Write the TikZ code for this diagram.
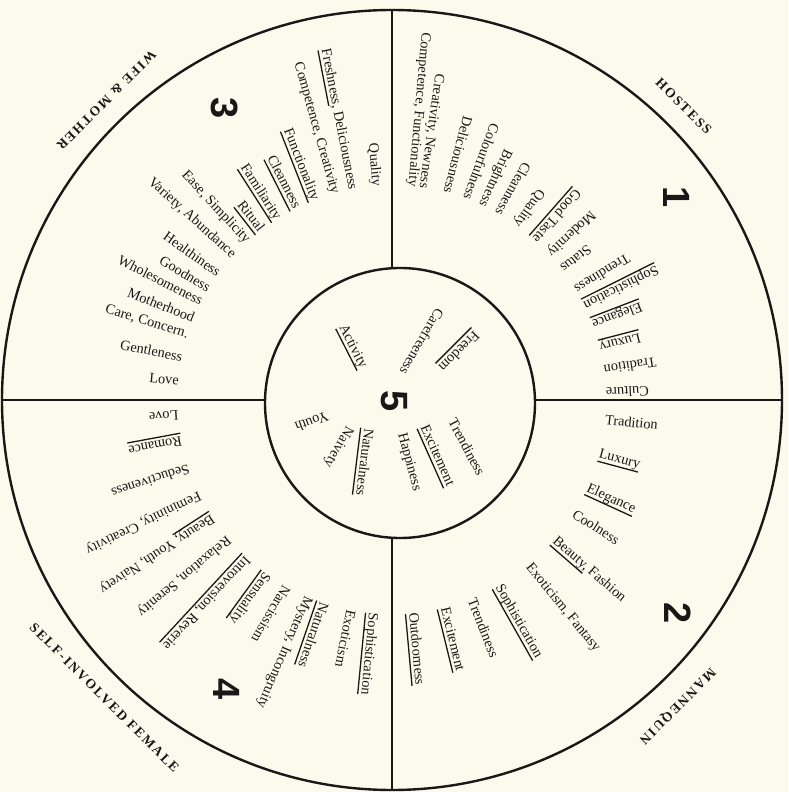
\documentclass[tikz,border=0pt]{standalone}
\usepackage{fontspec}
\setmainfont{Liberation Serif}
\newfontfamily\labfont[LetterSpace=14]{Liberation Serif}
\newfontfamily\numfont{Liberation Sans}
\definecolor{bgcream}{RGB}{252,250,237}
\definecolor{ink}{RGB}{26,24,22}
\newsavebox\ulbox
\newcommand\ulx[1]{\leavevmode\sbox\ulbox{#1}\rlap{\rule[-4.3pt]{\wd\ulbox}{1.3pt}}\usebox\ulbox}
\newcommand\wordfont{\fontsize{14.3}{16}\selectfont}
\tikzset{
  ring/.style={circle, draw=ink, line width=2.4pt, inner sep=0pt},
  divider/.style={draw=ink, line width=2.4pt},
  inw/.style={anchor=mid east, inner sep=0pt, text=ink, font=\wordfont},
  outw/.style={anchor=mid west, inner sep=0pt, text=ink, font=\wordfont},
  cw/.style={inner sep=0pt, text=ink, font=\wordfont},
  lab/.style={inner sep=0pt, text=ink, font=\labfont\bfseries\fontsize{13.5}{15}\selectfont},
  num/.style={inner sep=0pt, text=ink, font=\numfont\bfseries\fontsize{38}{40}\selectfont},
}
\begin{document}
\begin{tikzpicture}[x=1pt,y=1pt]
\useasboundingbox (-392,-392) rectangle (396,400);
\fill[bgcream] (-392,-392) rectangle (396,400);
% circles
\node[ring, minimum size=780pt] (outer) at (0,0) {};
\node[ring, minimum size=270pt] (inner) at (8,-3) {};
% dividers
\draw[divider] (outer.north) -- (outer.north |- inner.north);
\draw[divider] (outer.south) -- (outer.south |- inner.south);
\draw[divider] (outer.west) -- (inner.west |- outer.west);
\draw[divider] (outer.east) -- (inner.east |- outer.east);
% quadrants 1 and 3: reading inward
\foreach \a/\t [count=\i] in {
  85/{Competence, Functionality},
  82/{Creativity, Newness},
  75.5/Deliciousness,
  70/Colourfulness,
  65.4/Brightness,
  60.7/Cleanness,
  54.8/Quality,
  48.6/{\ulx{Good Taste}},
  43.2/Modernity,
  38/Status,
  31.5/Trendiness,
  26.5/{\ulx{Sophistication}},
  21/{\ulx{Elegance}},
  14.6/{\ulx{Luxury}},
  8.7/Tradition,
  2.6/Culture,
  94.6/Quality,
  101/{\ulx{Freshness}, Deliciousness},
  105.8/{Competence, Creativity},
  111.4/{\ulx{Functionality}},
  116.8/{\ulx{Cleanness}},
  122.6/{\ulx{Familiarity}},
  128/{\ulx{Ritual}},
  132.7/{Ease, Simplicity},
  138/{Variety, Abundance},
  144.4/Healthiness,
  149.2/Goodness,
  153.2/Wholesomeness,
  158.2/Motherhood,
  162.6/{Care, Concern.},
  169/Gentleness,
  175.3/Love}
  \node[inw, rotate=\a+180] (in\i) at (\a:214pt) {\t};
% quadrants 2 and 4: reading outward
\foreach \a/\t [count=\i] in {
  -5.9/Tradition,
  -15/{\ulx{Luxury}},
  -24.6/{\ulx{Elegance}},
  -32.5/Coolness,
  -41/{\ulx{Beauty,} Fashion},
  -50.8/{Exoticism, Fantasy},
  -60.5/{\ulx{Sophistication}},
  -68.7/Trendiness,
  -76.2/{\ulx{Excitement}},
  -84.8/{\ulx{Outdoorness}},
  183.5/Love,
  190.5/{\ulx{Romance}},
  198/Seductiveness,
  206/{Femininity, Creativity},
  212.9/{\ulx{Beauty,} Youth, Naivety},
  220/{Relaxation, Serenity},
  227.2/{\ulx{Introversion, Reverie}},
  234/{\ulx{Sensuality}},
  240/Narcissism,
  246.6/{Mystery, Incongruity},
  251/{\ulx{Naturalness}},
  258.4/Exoticism,
  264.5/{\ulx{Sophistication}}}
  \node[outw, rotate=\a] (out\i) at (\a:214pt) {\t};
% centre circle
\node[cw, rotate=225] (c1) at (66,50) {\ulx{Freedom}};
\node[cw, rotate=240] (c2) at (30,58) {Carefreeness};
\node[cw, rotate=-63] (c3) at (-40,53) {\ulx{Activity}};
\node[cw, rotate=200] (c4) at (-80,-22) {Youth};
\node[cw, rotate=240] (c5) at (-54,-47) {Naivety};
\node[cw, rotate=263] (c6) at (-29,-62) {\ulx{Naturalness}};
\node[cw, rotate=-75] (c7) at (17,-62) {Happiness};
\node[cw, rotate=-66] (c8) at (44,-56) {\ulx{Excitement}};
\node[cw, rotate=-62] (c9) at (75,-47) {Trendiness};
% numbers
\node[num, rotate=-90] (n1) at (285,203) {1};
\node[num, rotate=-90] (n2) at (286,-213) {2};
\node[num, rotate=-90] (n3) at (-167,292) {3};
\node[num, rotate=-90] (n4) at (-165,-289) {4};
\node[num, rotate=-90] (n5) at (2,-1) {5};
% outer labels
\node[lab, rotate=-45] (hostess) at (45.2:414pt) {HOSTESS};
\node[lab, rotate=-135] (wife) at (133.6:414pt) {WIFE \& MOTHER};
\node[lab, rotate=-135] (mannequin) at (-47:418pt) {MANNEQUIN};
\node[lab, rotate=-45] (selfinv) at (-134:414pt) {SELF-INVOLVED FEMALE};
\end{tikzpicture}
\end{document}
